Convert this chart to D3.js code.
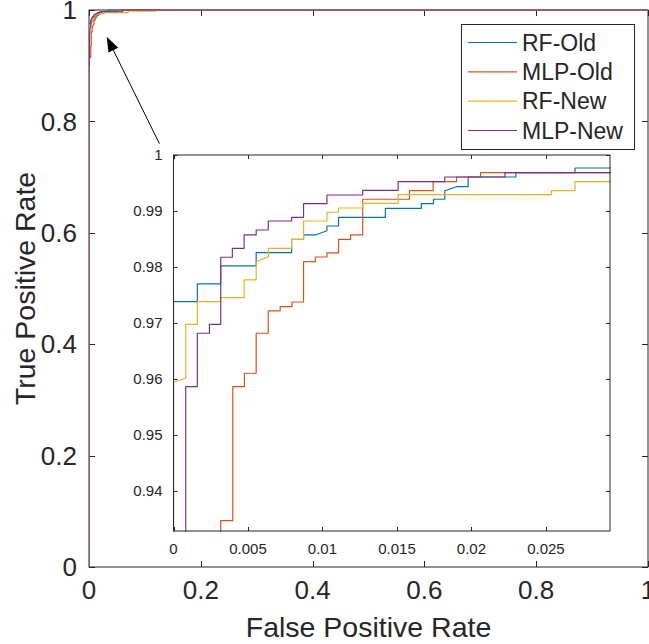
<!DOCTYPE html>
<html>
<head>
<meta charset="utf-8">
<script src="https://cdn.jsdelivr.net/npm/d3@7"></script>
<style>
  body { margin: 0; background: #fff; }
  svg text { font-family: "Liberation Sans", Arial, Helvetica, sans-serif; fill: #262626; }
</style>
</head>
<body>
<svg id="roc"></svg>
<script>
// ROC vertices (FPR, TPR)
const seriesNames = ["RF-Old", "MLP-Old", "RF-New", "MLP-New"];

const rfOldFpr = [0, 0, 0.00160, 0.00160, 0.00317, 0.00317, 0.00555, 0.00555, 0.00793, 0.00793, 0.00873, 0.00873, 0.00952, 0.01030, 0.01030, 0.01108, 0.01108, 0.01422, 0.01422, 0.01664, 0.01664, 0.01745, 0.01745, 0.01821, 0.01821, 0.01900, 0.01978, 0.01978, 0.02298, 0.02298, 0.02695, 0.02695, 0.035, 0.035, 1];
const rfOldTpr = [0, 0.97383, 0.97383, 0.97699, 0.97699, 0.98020, 0.98020, 0.98257, 0.98257, 0.98496, 0.98496, 0.98573, 0.98573, 0.98649, 0.98733, 0.98733, 0.98888, 0.98888, 0.99049, 0.99049, 0.99131, 0.99131, 0.99210, 0.99210, 0.99363, 0.99434, 0.99434, 0.99607, 0.99607, 0.99684, 0.99684, 0.99768, 0.99768, 1, 1];

const mlpOldFpr = [0, 0, 0.00317, 0.00317, 0.00398, 0.00398, 0.00476, 0.00476, 0.00555, 0.00555, 0.00636, 0.00636, 0.00716, 0.00716, 0.00795, 0.00795, 0.00873, 0.00873, 0.00952, 0.00952, 0.01030, 0.01030, 0.01108, 0.01108, 0.01189, 0.01189, 0.01270, 0.01270, 0.01584, 0.01584, 0.01743, 0.01743, 0.01900, 0.01900, 0.02061, 0.02061, 0.05, 0.05, 1];
const mlpOldTpr = [0, 0.915, 0.915, 0.93475, 0.93475, 0.95866, 0.95866, 0.96105, 0.96105, 0.96819, 0.96819, 0.97217, 0.97217, 0.97294, 0.97294, 0.97377, 0.97377, 0.98096, 0.98096, 0.98180, 0.98180, 0.98252, 0.98252, 0.98496, 0.98496, 0.98573, 0.98573, 0.99210, 0.99210, 0.99363, 0.99363, 0.99524, 0.99524, 0.99607, 0.99607, 0.99684, 0.99684, 1, 1];

const rfNewFpr = [0, 0, 0.00082, 0.00082, 0.00160, 0.00160, 0.00317, 0.00317, 0.00474, 0.00474, 0.00555, 0.00555, 0.00638, 0.00638, 0.00793, 0.00793, 0.00873, 0.00873, 0.01030, 0.01030, 0.01108, 0.01108, 0.01270, 0.01270, 0.01508, 0.01508, 0.02537, 0.02537, 0.02695, 0.02695, 0.07, 0.07, 0.12, 0.12, 1];
const rfNewTpr = [0, 0.95945, 0.96016, 0.96979, 0.96979, 0.97383, 0.97383, 0.97454, 0.97454, 0.97770, 0.97770, 0.98096, 0.98186, 0.98335, 0.98335, 0.98496, 0.98496, 0.98822, 0.98822, 0.98978, 0.98978, 0.99054, 0.99054, 0.99138, 0.99138, 0.99292, 0.99292, 0.99363, 0.99363, 0.99524, 0.99524, 0.998, 0.998, 1, 1];

const mlpNewFpr = [0, 0, 0.00082, 0.00082, 0.00160, 0.00160, 0.00241, 0.00241, 0.00317, 0.00317, 0.00395, 0.00395, 0.00474, 0.00474, 0.00555, 0.00555, 0.00636, 0.00636, 0.00793, 0.00793, 0.00873, 0.00873, 0.01030, 0.01030, 0.01270, 0.01270, 0.01508, 0.01508, 0.01821, 0.01821, 0.02225, 0.02225, 0.06, 0.06, 1];
const mlpNewTpr = [0, 0.90, 0.90, 0.95866, 0.95866, 0.96819, 0.96819, 0.96979, 0.96979, 0.98175, 0.98175, 0.98335, 0.98335, 0.98573, 0.98573, 0.98662, 0.98662, 0.98822, 0.98822, 0.98888, 0.98888, 0.99131, 0.99131, 0.99286, 0.99286, 0.99370, 0.99370, 0.99524, 0.99524, 0.99607, 0.99607, 0.99684, 0.99684, 1, 1];

const mainTicks = [0, 0.2, 0.4, 0.6, 0.8, 1];
const insetXTicks = [0, 0.005, 0.01, 0.015, 0.02, 0.025];
const insetYTicks = [0.94, 0.95, 0.96, 0.97, 0.98, 0.99, 1];
const insetXDomain = [0, 0.0293];
const insetYDomain = [0.9329, 1];

const colors = ["#0072BD", "#D95319", "#EDB120", "#7E2F8E"];
const axisColor = "#262626";

const width = 649, height = 644;
const svg = d3.select("#roc").attr("width", width).attr("height", height);

const series = [
    { name: seriesNames[0], fpr: rfOldFpr, tpr: rfOldTpr },
    { name: seriesNames[1], fpr: mlpOldFpr, tpr: mlpOldTpr },
    { name: seriesNames[2], fpr: rfNewFpr, tpr: rfNewTpr },
    { name: seriesNames[3], fpr: mlpNewFpr, tpr: mlpNewTpr }
].map((s, i) => ({ ...s, color: colors[i], pts: s.fpr.map((f, j) => [f, s.tpr[j]]) }));

// axes frame helper: box, mirrored inward ticks
function drawAxes(g, x, y, xTicks, yTicks, tickLen, fontSize, fmt, labelGap) {
    const [x0, x1] = x.range();
    const [y0, y1] = y.range();
    const tk = g.append("g").attr("stroke", axisColor).attr("stroke-width", 1);
    xTicks.forEach(t => {
        const px = Math.round(x(t)) + 0.5;
        tk.append("line").attr("x1", px).attr("x2", px).attr("y1", y0).attr("y2", y0 - tickLen);
        tk.append("line").attr("x1", px).attr("x2", px).attr("y1", y1).attr("y2", y1 + tickLen);
    });
    yTicks.forEach(t => {
        const py = Math.round(y(t)) + 0.5;
        tk.append("line").attr("x1", x0).attr("x2", x0 + tickLen).attr("y1", py).attr("y2", py);
        tk.append("line").attr("x1", x1).attr("x2", x1 - tickLen).attr("y1", py).attr("y2", py);
    });
    g.append("rect")
        .attr("x", x0).attr("y", y1)
        .attr("width", x1 - x0).attr("height", y0 - y1)
        .attr("fill", "none").attr("stroke", axisColor).attr("stroke-width", 1);

    g.append("g").selectAll("text").data(xTicks).join("text")
        .attr("x", d => x(d)).attr("y", y0 + labelGap[0])
        .attr("text-anchor", "middle").attr("font-size", fontSize)
        .text(fmt);
    g.append("g").selectAll("text").data(yTicks).join("text")
        .attr("x", x0 - labelGap[1]).attr("y", d => y(d)).attr("dy", "0.35em")
        .attr("text-anchor", "end").attr("font-size", fontSize)
        .text(fmt);
}

function drawCurves(g, x, y, clipId) {
    const [x0, x1] = x.range();
    const [y0, y1] = y.range();
    svg.append("clipPath").attr("id", clipId)
        .append("rect").attr("x", x0).attr("y", y1 - 1).attr("width", x1 - x0 + 1).attr("height", y0 - y1 + 2);
    const line = d3.line().x(d => x(d[0])).y(d => y(d[1]));
    g.append("g").attr("clip-path", `url(#${clipId})`)
        .selectAll("path").data(series).join("path")
        .attr("d", d => line(d.pts))
        .attr("fill", "none")
        .attr("stroke", d => d.color)
        .attr("stroke-width", 1.2)
        .attr("stroke-linejoin", "round");
}

const fmt = d => d3.format("~g")(d);

// main axes
const mainX = d3.scaleLinear().domain([0, 1]).range([89, 648]);
const mainY = d3.scaleLinear().domain([0, 1]).range([567, 10]);
const gMain = svg.append("g");
drawAxes(gMain, mainX, mainY, mainTicks, mainTicks, 6, 26, fmt, [32, 12]);
drawCurves(gMain, mainX, mainY, "clipMain");

gMain.append("text")
    .attr("x", (mainX(0) + mainX(1)) / 2).attr("y", 637)
    .attr("text-anchor", "middle").attr("font-size", 28.5)
    .text("False Positive Rate");
gMain.append("text")
    .attr("transform", `translate(35,${(mainY(0) + mainY(1)) / 2}) rotate(-90)`)
    .attr("text-anchor", "middle").attr("font-size", 28.5)
    .text("True Positive Rate");

// arrow pointing at the zoomed corner
const arrowFrom = [0.126, 0.760], arrowTo = [0.0317, 0.952];
const ax0 = mainX(arrowFrom[0]), ay0 = mainY(arrowFrom[1]);
const ax1 = mainX(arrowTo[0]), ay1 = mainY(arrowTo[1]);
const ang = Math.atan2(ay1 - ay0, ax1 - ax0);
const headLen = 15, headW = 5.5;
const bx = ax1 - headLen * Math.cos(ang), by = ay1 - headLen * Math.sin(ang);
gMain.append("line")
    .attr("x1", ax0).attr("y1", ay0).attr("x2", bx).attr("y2", by)
    .attr("stroke", "#000").attr("stroke-width", 1);
gMain.append("path")
    .attr("d", `M${ax1},${ay1}L${bx + headW * Math.sin(ang)},${by - headW * Math.cos(ang)}L${bx - headW * Math.sin(ang)},${by + headW * Math.cos(ang)}Z`)
    .attr("fill", "#000");

// legend
const legend = svg.append("g");
legend.append("rect")
    .attr("x", 461.5).attr("y", 24.5).attr("width", 173).attr("height", 125)
    .attr("fill", "#fff").attr("stroke", axisColor).attr("stroke-width", 1);
const legendY = d3.scalePoint().domain(seriesNames).range([42.5, 130.5]);
legend.selectAll("line").data(series).join("line")
    .attr("x1", 468).attr("x2", 517)
    .attr("y1", d => legendY(d.name)).attr("y2", d => legendY(d.name))
    .attr("stroke", d => d.color).attr("stroke-width", 1.2);
legend.selectAll("text").data(series).join("text")
    .attr("x", 522).attr("y", d => legendY(d.name)).attr("dy", "0.36em")
    .attr("font-size", 23)
    .text(d => d.name);

// inset axes
const insetX = d3.scaleLinear().domain(insetXDomain).range([173.5, 610]);
const insetY = d3.scaleLinear().domain(insetYDomain).range([531, 155]);
const gInset = svg.append("g");
gInset.append("rect")
    .attr("x", 173.5).attr("y", 155).attr("width", 610 - 173.5).attr("height", 531 - 155)
    .attr("fill", "#fff");
drawCurves(gInset, insetX, insetY, "clipInset");
drawAxes(gInset, insetX, insetY, insetXTicks, insetYTicks, 4, 15, fmt, [23, 11]);
</script>
</body>
</html>
